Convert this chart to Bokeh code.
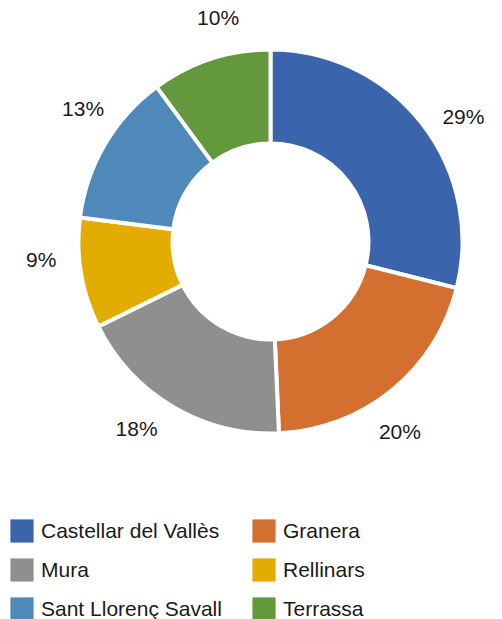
import numpy as np
from bokeh.plotting import figure
from bokeh.models import ColumnDataSource, Legend, LegendItem
from bokeh.embed import file_html
from bokeh.resources import INLINE
from bokeh.core.properties import value

# ---- data ----
towns = ["Castellar del Vallès", "Granera", "Mura", "Rellinars",
         "Sant Llorenç Savall", "Terrassa"]
shares = [28.9, 20.4, 18.4, 9.3, 12.9, 10.1]
colors = ["#3A65AC", "#D3702F", "#8F8F8E", "#E2AC00", "#4F89BA", "#64983C"]

# ---- derived ----
frac = np.array(shares) / sum(shares)
cum = np.concatenate([[0.0], np.cumsum(frac)])
start = np.pi / 2 - cum[:-1] * 2 * np.pi
end = np.pi / 2 - cum[1:] * 2 * np.pi
labels = [f"{round(f * 100)}%" for f in frac]

R_OUT, R_IN, R_LAB = 192, 98, 230
LABEL_SHIFT = np.radians(-5)          # labels sit slightly clockwise of slice middles
mid = (start + end) / 2 + LABEL_SHIFT

src = ColumnDataSource(dict(town=towns, start=start, end=end, color=colors,
                            lx=R_LAB * np.cos(mid), ly=R_LAB * np.sin(mid),
                            label=labels))

p = figure(width=502, height=619, x_range=(-270, 232), y_range=(-378, 241),
           output_backend="svg", toolbar_location=None,
           min_border=0, min_border_left=0, min_border_right=0,
           min_border_top=0, min_border_bottom=0)
p.axis.visible = False
p.grid.visible = False
p.outline_line_color = None

p.annular_wedge(x=0, y=0, inner_radius=R_IN, outer_radius=R_OUT,
                start_angle="start", end_angle="end", direction="clock",
                fill_color="color", line_color="white", line_width=4,
                source=src)

p.text(x="lx", y="ly", text="label", source=src, text_align="center",
       text_baseline="middle", text_font=value("Liberation Sans"),
       text_font_size="21px", text_color="#1a1a1a")

# legend proxies (not drawn: NaN coords)
nan = [np.nan] * len(towns)
proxy_src = ColumnDataSource(dict(l=nan, r=nan, b=nan, t=nan, color=colors))
proxy = p.quad(left="l", right="r", bottom="b", top="t", fill_color="color",
               line_alpha=0, source=proxy_src)

items = [LegendItem(label=t, renderers=[proxy], index=i) for i, t in enumerate(towns)]
legend = Legend(items=items, ncols=2, orientation="horizontal",
                location=(7, -4), glyph_width=29, glyph_height=29,
                label_standoff=5, spacing=10, label_width=198,
                padding=0, margin=0, border_line_alpha=0,
                background_fill_alpha=0,
                label_text_font="Liberation Sans", label_text_font_size="21px",
                label_text_color="#1a1a1a")
p.add_layout(legend)

open("out.html", "w").write(file_html(p, INLINE))
